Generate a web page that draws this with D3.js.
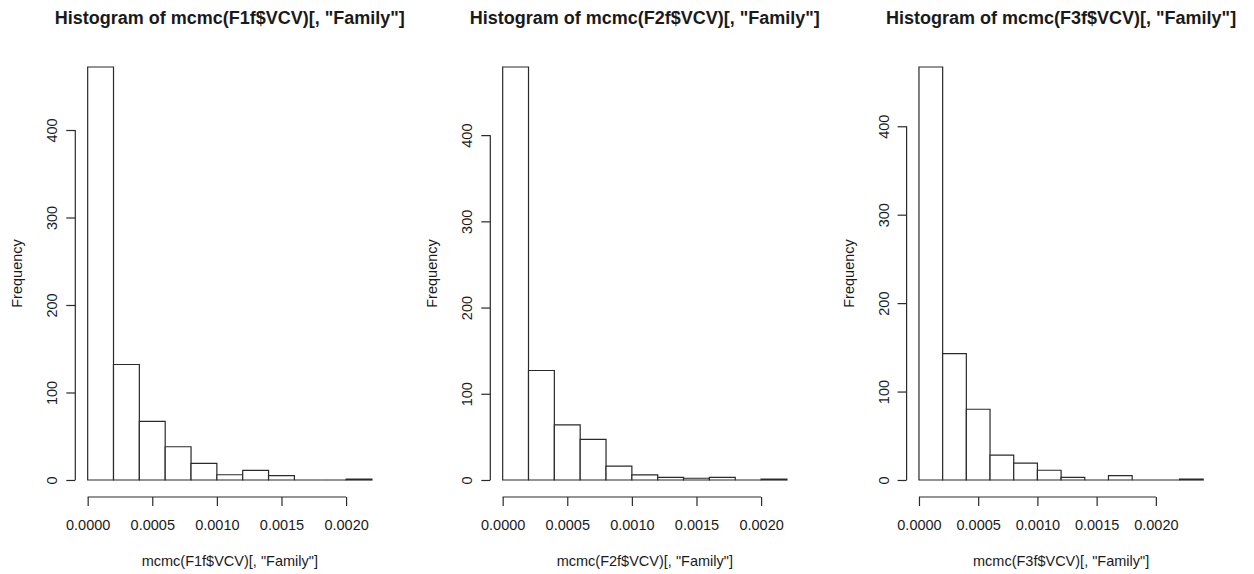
<!DOCTYPE html>
<html>
<head>
<meta charset="utf-8">
<script src="https://cdn.jsdelivr.net/npm/d3@7"></script>
<style>
  html, body { margin: 0; padding: 0; background: #ffffff; }
  svg { display: block; }
  text { font-family: "Liberation Sans", Arial, sans-serif; fill: #1a1a1a; }
</style>
</head>
<body>
<svg id="chart" width="1254" height="574"></svg>
<script>
// ---- data ----
const panelNames = ["F1f", "F2f", "F3f"];
const breaks1 = [0, 0.0002, 0.0004, 0.0006, 0.0008, 0.0010, 0.0012, 0.0014, 0.0016, 0.0018, 0.0020, 0.0022];
const counts1 = [472, 132, 67, 38, 19, 6, 11, 5, 0, 0, 1];
const breaks2 = [0, 0.0002, 0.0004, 0.0006, 0.0008, 0.0010, 0.0012, 0.0014, 0.0016, 0.0018, 0.0020, 0.0022];
const counts2 = [479, 127, 64, 47, 16, 6, 3, 2, 3, 0, 1];
const breaks3 = [0, 0.0002, 0.0004, 0.0006, 0.0008, 0.0010, 0.0012, 0.0014, 0.0016, 0.0018, 0.0020, 0.0022, 0.0024];
const counts3 = [467, 143, 80, 28, 19, 11, 3, 0, 5, 0, 0, 1];
const xTickValues = [0, 0.0005, 0.0010, 0.0015, 0.0020];
const yTickValues = [0, 100, 200, 300, 400];
const yAxisTitle = "Frequency";

// ---- layout ----
const panelLefts = [76.3, 491.3, 907.6];
const plotWidth = 307;
const plotTop = 50.5, plotBottom = 496.5;

const svg = d3.select("#chart");
const panels = [
  {name: panelNames[0], breaks: breaks1, counts: counts1},
  {name: panelNames[1], breaks: breaks2, counts: counts2},
  {name: panelNames[2], breaks: breaks3, counts: counts3}
];

const fmt = d3.format(".4f");

panels.forEach((p, i) => {
  const left = panelLefts[i];
  const right = left + plotWidth;
  const bMin = d3.min(p.breaks), bMax = d3.max(p.breaks);
  const xr = bMax - bMin;
  const x = d3.scaleLinear()
    .domain([bMin - 0.04 * xr, bMax + 0.04 * xr])
    .range([left, right]);
  const cMax = d3.max(p.counts);
  const y = d3.scaleLinear()
    .domain([-0.04 * cMax, 1.04 * cMax])
    .range([plotBottom, plotTop]);

  const g = svg.append("g");
  const bins = p.counts.map((c, k) => ({x0: p.breaks[k], x1: p.breaks[k + 1], c}));

  // bars as closed paths so zero-count bins still draw their baseline edge
  g.selectAll("path.bar").data(bins).enter().append("path")
    .attr("class", "bar")
    .attr("d", d => {
      const x0 = x(d.x0), x1 = x(d.x1), y0 = y(0), y1 = y(d.c);
      return `M${x0},${y0}H${x1}V${y1}H${x0}Z`;
    })
    .attr("fill", "#ffffff")
    .attr("stroke", "#2a2a2a")
    .attr("stroke-width", 1.2);

  // x axis (R style: from first to last tick)
  const xAxisY = plotBottom + 0.5;
  const xAxis = d3.axisBottom(x).tickValues(xTickValues).tickFormat(fmt)
    .tickSizeInner(9).tickSizeOuter(0).tickPadding(13);
  const gx = g.append("g").attr("transform", `translate(0,${xAxisY})`).call(xAxis);
  gx.select(".domain").remove();
  gx.append("line")
    .attr("x1", x(xTickValues[0])).attr("x2", x(xTickValues[xTickValues.length - 1]))
    .attr("y1", 0).attr("y2", 0)
    .attr("stroke", "#2a2a2a").attr("stroke-width", 1.2);
  gx.selectAll(".tick line").attr("stroke", "#2a2a2a").attr("stroke-width", 1.2);
  gx.selectAll(".tick text")
    .attr("font-size", "14.5px")
    .attr("font-family", "Liberation Sans, Arial, sans-serif")
    .attr("fill", "#1a1a1a")
    .attr("dy", null)
    .attr("y", 530 - xAxisY);

  // y axis
  const yAxisX = left - 1;
  const yAxis = d3.axisLeft(y).tickValues(yTickValues).tickFormat(d3.format("d"))
    .tickSizeInner(9).tickSizeOuter(0);
  const gy = g.append("g").attr("transform", `translate(${yAxisX},0)`).call(yAxis);
  gy.select(".domain").remove();
  gy.append("line")
    .attr("x1", 0).attr("x2", 0)
    .attr("y1", y(yTickValues[0])).attr("y2", y(yTickValues[yTickValues.length - 1]))
    .attr("stroke", "#2a2a2a").attr("stroke-width", 1.2);
  gy.selectAll(".tick line").attr("stroke", "#2a2a2a").attr("stroke-width", 1.2);
  gy.selectAll(".tick text")
    .attr("font-size", "14.5px")
    .attr("font-family", "Liberation Sans, Arial, sans-serif")
    .attr("fill", "#1a1a1a")
    .attr("x", null).attr("dy", null)
    .attr("text-anchor", "middle")
    .attr("transform", "translate(-18,0) rotate(-90)")
    .attr("y", 0);

  const cx = (left + right) / 2;
  const cy = (plotTop + plotBottom) / 2;

  // title
  g.append("text")
    .attr("x", cx).attr("y", 24)
    .attr("text-anchor", "middle")
    .attr("font-size", "18px")
    .attr("font-weight", "bold")
    .attr("fill", "#111")
    .text(`Histogram of mcmc(${p.name}$VCV)[, "Family"]`);

  // x axis title
  g.append("text")
    .attr("x", cx).attr("y", 566)
    .attr("text-anchor", "middle")
    .attr("font-size", "14.5px")
    .text(`mcmc(${p.name}$VCV)[, "Family"]`);

  // y axis title
  g.append("text")
    .attr("transform", `translate(${yAxisX - 53},${cy}) rotate(-90)`)
    .attr("text-anchor", "middle")
    .attr("font-size", "14.5px")
    .text(yAxisTitle);
});
</script>
</body>
</html>
